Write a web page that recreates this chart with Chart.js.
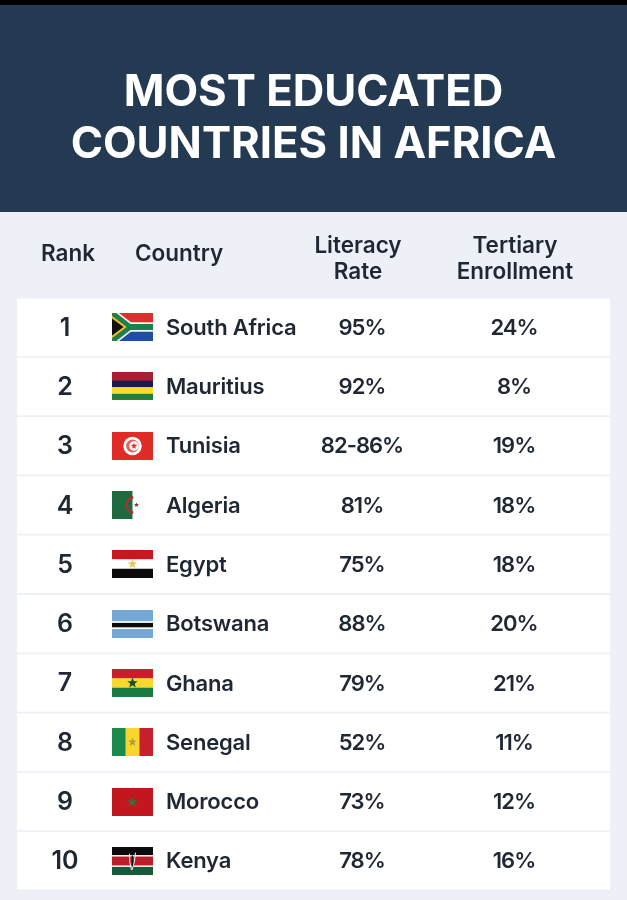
<!DOCTYPE html>
<html>
<head>
<meta charset="utf-8">
<title>Most Educated Countries in Africa</title>
<script src="https://cdn.jsdelivr.net/npm/chart.js@4"></script>
<style>
	html, body { margin: 0; padding: 0; background: #eef0f7; }
	canvas { display: block; }
</style>
</head>
<body>
<canvas id="chart" width="627" height="900"></canvas>
<script>
const ranks = ["1", "2", "3", "4", "5", "6", "7", "8", "9", "10"];
const countries = ["South Africa", "Mauritius", "Tunisia", "Algeria", "Egypt", "Botswana", "Ghana", "Senegal", "Morocco", "Kenya"];
const literacyRate = ["95%", "92%", "82-86%", "81%", "75%", "88%", "79%", "52%", "73%", "78%"];
const tertiaryEnrollment = ["24%", "8%", "19%", "18%", "18%", "20%", "21%", "11%", "12%", "16%"];
const titleLines = ["MOST EDUCATED", "COUNTRIES IN AFRICA"];

const TEXT = "#1f2733";
const FONT = "Inter, 'Noto Sans', sans-serif";
const TABLE_LEFT = 17;
const TABLE_RIGHT = 610;

// x scale runs in canvas units so the column anchors read like the picture
const COL = { rank: 65, flag: 112, name: 166, literacy: 362, tertiary: 514 };
const HEAD = { rank: 68, country: 135, literacy: 358, tertiary: 515 };
const FLAG_W = 41;
const FLAG_H = 28;
const TEXT_DY = 1; // middle baseline sits a little high for Inter

function star(ctx, cx, cy, r, color) {
	ctx.fillStyle = color;
	ctx.beginPath();
	for (let i = 0; i < 10; i++) {
		const rad = i % 2 ? r * 0.42 : r;
		const a = -Math.PI / 2 + (i * Math.PI) / 5;
		ctx.lineTo(cx + rad * Math.cos(a), cy + rad * Math.sin(a));
	}
	ctx.closePath();
	ctx.fill();
}

function hStripes(ctx, w, h, stripes) {
	let y = 0;
	stripes.forEach(([color, part]) => {
		ctx.fillStyle = color;
		ctx.fillRect(0, y, w, part * h + 0.5);
		y += part * h;
	});
}

function vStripes(ctx, w, h, stripes) {
	let x = 0;
	stripes.forEach(([color, part]) => {
		ctx.fillStyle = color;
		ctx.fillRect(x, 0, part * w + 0.5, h);
		x += part * w;
	});
}

const flags = {
	"South Africa": (ctx, w, h) => {
		hStripes(ctx, w, h, [["#d9322e", 0.5], ["#1f4ea1", 0.5]]);
		const yLine = (color, width) => {
			ctx.strokeStyle = color;
			ctx.lineWidth = width;
			ctx.beginPath();
			ctx.moveTo(-2, -1);
			ctx.lineTo(w * 0.42, h / 2);
			ctx.lineTo(w, h / 2);
			ctx.moveTo(-2, h + 1);
			ctx.lineTo(w * 0.42, h / 2);
			ctx.stroke();
		};
		yLine("#f4f4f4", h * 0.34);
		yLine("#1c7f4c", h * 0.22);
		ctx.fillStyle = "#e7b92f";
		ctx.beginPath();
		ctx.moveTo(0, h * 0.1);
		ctx.lineTo(w * 0.36, h / 2);
		ctx.lineTo(0, h * 0.9);
		ctx.fill();
		ctx.fillStyle = "#111";
		ctx.beginPath();
		ctx.moveTo(0, h * 0.2);
		ctx.lineTo(w * 0.28, h / 2);
		ctx.lineTo(0, h * 0.8);
		ctx.fill();
	},
	Mauritius: (ctx, w, h) => {
		hStripes(ctx, w, h, [["#a91e33", 0.31], ["#1b1b4b", 0.23], ["#f7dc2c", 0.24], ["#1f8043", 0.22]]);
	},
	Tunisia: (ctx, w, h) => {
		ctx.fillStyle = "#e12b26";
		ctx.fillRect(0, 0, w, h);
		ctx.fillStyle = "#fff";
		ctx.beginPath();
		ctx.arc(w / 2, h / 2, h * 0.33, 0, Math.PI * 2);
		ctx.fill();
		ctx.fillStyle = "#e9625e";
		ctx.beginPath();
		ctx.arc(w / 2, h / 2, h * 0.23, 0, Math.PI * 2);
		ctx.fill();
		ctx.fillStyle = "#fff";
		ctx.beginPath();
		ctx.arc(w / 2 + 1.5, h / 2, h * 0.17, 0, Math.PI * 2);
		ctx.fill();
		star(ctx, w / 2 + 1.5, h / 2, h * 0.12, "#e12b26");
	},
	Algeria: (ctx, w, h) => {
		vStripes(ctx, w, h, [["#1d6b3e", 0.5], ["#ffffff", 0.5]]);
		ctx.strokeStyle = "#a8322f";
		ctx.lineWidth = 2.5;
		ctx.beginPath();
		ctx.arc(w / 2 + 2, h / 2, h * 0.28, Math.PI * 0.55, Math.PI * 1.45);
		ctx.stroke();
		star(ctx, w / 2 + 4, h / 2, 2.6, "#6a3a33");
	},
	Egypt: (ctx, w, h) => {
		hStripes(ctx, w, h, [["#c8161f", 0.33], ["#ffffff", 0.34], ["#0c0c0c", 0.33]]);
		star(ctx, w / 2, h / 2, 4.8, "#e8c35a");
	},
	Botswana: (ctx, w, h) => {
		hStripes(ctx, w, h, [["#74a8d6", 0.4], ["#ffffff", 0.06], ["#0c0c0c", 0.16], ["#ffffff", 0.06], ["#74a8d6", 0.32]]);
	},
	Ghana: (ctx, w, h) => {
		hStripes(ctx, w, h, [["#c8202a", 0.33], ["#f6d92f", 0.34], ["#1b7a42", 0.33]]);
		star(ctx, w / 2, h / 2, 5.5, "#14502c");
	},
	Senegal: (ctx, w, h) => {
		vStripes(ctx, w, h, [["#1b8a4a", 0.33], ["#f8d62e", 0.34], ["#c8202a", 0.33]]);
		star(ctx, w / 2, h / 2, 4.5, "#a5a03a");
	},
	Morocco: (ctx, w, h) => {
		ctx.fillStyle = "#c4161f";
		ctx.fillRect(0, 0, w, h);
		star(ctx, w / 2, h / 2, 5.5, "#3f6a3a");
	},
	Kenya: (ctx, w, h) => {
		hStripes(ctx, w, h, [["#0c0c0c", 0.29], ["#ffffff", 0.05], ["#bb1e2b", 0.32], ["#ffffff", 0.05], ["#17593b", 0.29]]);
		ctx.strokeStyle = "#f4f4f4";
		ctx.lineWidth = 1;
		ctx.beginPath();
		ctx.moveTo(w / 2 - 3, h * 0.24);
		ctx.quadraticCurveTo(w / 2 - 3.5, h * 0.55, w / 2 - 1, h * 0.82);
		ctx.moveTo(w / 2 + 3, h * 0.2);
		ctx.quadraticCurveTo(w / 2 + 2.5, h * 0.55, w / 2 - 0.5, h * 0.82);
		ctx.stroke();
		ctx.fillStyle = "#111";
		ctx.fillRect(w / 2 - 0.8, h * 0.3, 1.4, h * 0.4);
	},
};

const backdrop = {
	id: "backdrop",
	beforeDraw(chart) {
		const { ctx, width, height } = chart;
		ctx.save();
		ctx.fillStyle = "#eef0f7";
		ctx.fillRect(0, 0, width, height);
		ctx.fillStyle = "#243a52";
		ctx.fillRect(0, 5, width, 207);
		ctx.fillStyle = "#000";
		ctx.fillRect(0, 0, width, 5);
		ctx.restore();
	},
};

const tableText = {
	id: "tableText",
	afterDatasetsDraw(chart) {
		const { ctx } = chart;
		const xs = chart.scales.x;
		const ys = chart.scales.y;
		ctx.save();
		ctx.textBaseline = "middle";
		ctx.fillStyle = TEXT;

		// header row sits above the first table row
		const headY = ys.getPixelForValue(0) - 74 + TEXT_DY;
		ctx.font = `600 22.5px ${FONT}`;
		ctx.textAlign = "center";
		ctx.fillText("Rank", xs.getPixelForValue(HEAD.rank), headY);
		ctx.fillText("Literacy", xs.getPixelForValue(HEAD.literacy), headY - 8);
		ctx.fillText("Rate", xs.getPixelForValue(HEAD.literacy), headY + 18);
		ctx.fillText("Tertiary", xs.getPixelForValue(HEAD.tertiary), headY - 8);
		ctx.fillText("Enrollment", xs.getPixelForValue(HEAD.tertiary), headY + 18);
		ctx.textAlign = "left";
		ctx.fillText("Country", xs.getPixelForValue(HEAD.country), headY);

		ranks.forEach((rank, i) => {
			const center = ys.getPixelForValue(i);
			const y = center + TEXT_DY;

			ctx.letterSpacing = "0px";
			ctx.font = `600 25px ${FONT}`;
			ctx.textAlign = "center";
			ctx.fillText(rank, xs.getPixelForValue(COL.rank), y);

			ctx.letterSpacing = "-0.2px";
			ctx.font = `600 22px ${FONT}`;
			ctx.textAlign = "left";
			ctx.fillText(countries[i], xs.getPixelForValue(COL.name), y);

			ctx.letterSpacing = "-1px";
			ctx.textAlign = "center";
			ctx.fillText(literacyRate[i], xs.getPixelForValue(COL.literacy), y);
			ctx.fillText(tertiaryEnrollment[i], xs.getPixelForValue(COL.tertiary), y);
			ctx.letterSpacing = "0px";

			ctx.save();
			ctx.translate(xs.getPixelForValue(COL.flag), Math.round(center - FLAG_H / 2));
			ctx.beginPath();
			ctx.rect(0, 0, FLAG_W, FLAG_H);
			ctx.clip();
			flags[countries[i]](ctx, FLAG_W, FLAG_H);
			ctx.restore();
		});
		ctx.restore();
	},
};

new Chart(document.getElementById("chart"), {
	type: "bar",
	data: {
		labels: ranks,
		datasets: [
			{
				data: ranks.map(() => [TABLE_LEFT, TABLE_RIGHT]),
				backgroundColor: "#ffffff",
				barPercentage: 0.97,
				categoryPercentage: 1,
			},
		],
	},
	options: {
		indexAxis: "y",
		responsive: false,
		animation: false,
		layout: {
			padding: { left: TABLE_LEFT, right: 627 - TABLE_RIGHT, bottom: 9.5 },
		},
		plugins: {
			legend: { display: false },
			tooltip: { enabled: false },
			title: {
				display: true,
				text: titleLines,
				color: "#ffffff",
				font: { family: FONT, size: 43.7, weight: "700", lineHeight: 1.19 },
				padding: { top: 66.5, bottom: 127 },
			},
		},
		scales: {
			x: { display: false, min: TABLE_LEFT, max: TABLE_RIGHT },
			y: { display: false },
		},
	},
	plugins: [backdrop, tableText],
});
</script>
</body>
</html>
